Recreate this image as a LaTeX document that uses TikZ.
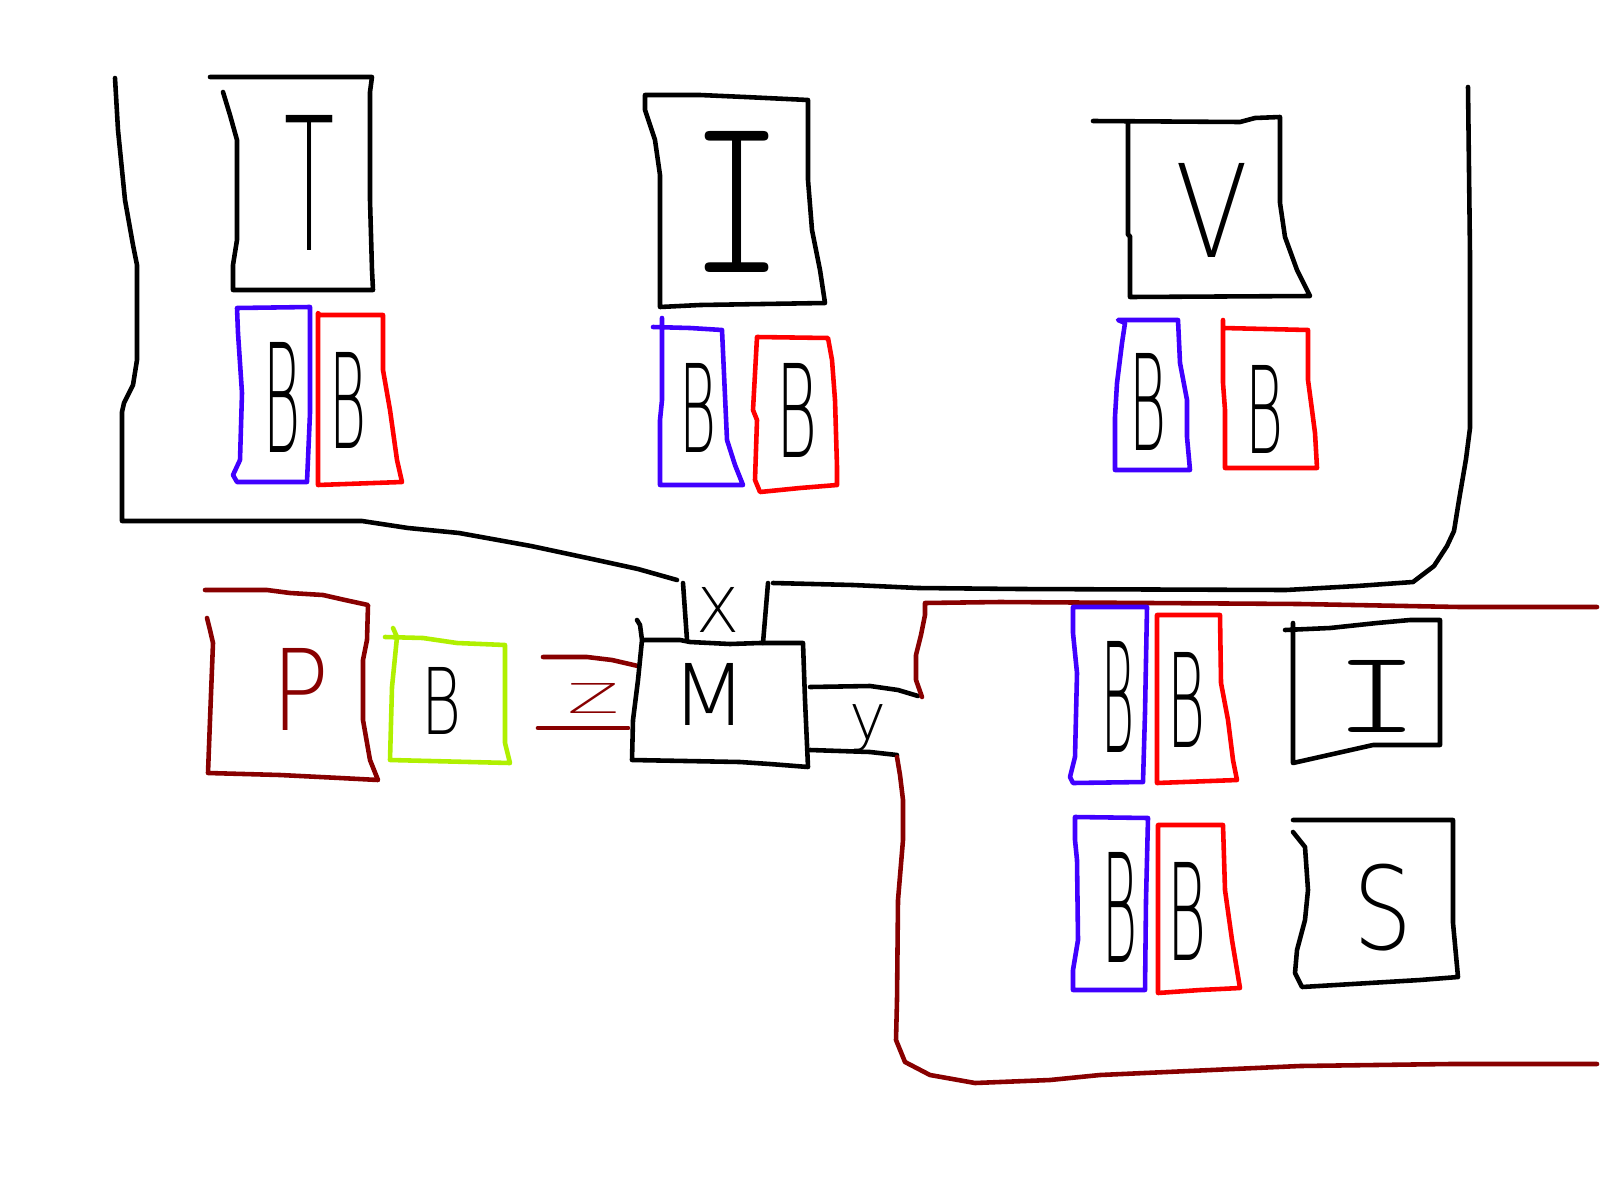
\documentclass[tikz,border=0pt]{standalone}
\usepackage{fontspec}
\usepackage{graphicx}
\IfFontExistsTF{DejaVuSans-ExtraLight.ttf}{\newfontfamily\sketchfont{DejaVuSans-ExtraLight.ttf}}{\newfontfamily\sketchfont{Fira Sans}}
\IfFontExistsTF{Latin Modern Mono Light}{\newfontfamily\slabfont{Latin Modern Mono Light}}{%
  \IfFontExistsTF{lmmonolt10-regular}{\newfontfamily\slabfont{lmmonolt10-regular}}{%
    \newfontfamily\slabfont{Liberation Mono}}}
\newlength\pxu
\setlength\pxu{0.1mm}
\newcommand\glyph[3]{\resizebox*{#1\pxu}{#2\pxu}{\sketchfont #3}}
\newcommand\slabglyph[3]{\resizebox*{#1\pxu}{#2\pxu}{\slabfont #3}}
\definecolor{pblue}{RGB}{64,0,255}
\definecolor{pred}{RGB}{255,0,0}
\definecolor{pmaroon}{RGB}{136,0,0}
\definecolor{plime}{RGB}{176,240,0}
\tikzset{
  ink/.style={line width=1.3pt, line join=round, line cap=round},
  blk/.style={ink, draw=black},
  blu/.style={ink, draw=pblue},
  rd/.style={ink, draw=pred},
  mar/.style={ink, draw=pmaroon},
  grn/.style={ink, draw=plime},
  let/.style={inner sep=0pt, outer sep=0pt, anchor=center},
}
\begin{document}
\begin{tikzpicture}[x=0.01cm, y=-0.01cm]
\useasboundingbox[fill=white] (0,0) rectangle (1600,1200);

% ---------- big black boundary (left/top region) ----------
\draw[blk] (115,78) -- (118,130) -- (125,200) -- (133,245) -- (137,265) -- (137,360) -- (133,385) -- (124,403) -- (122,412) -- (122,521) -- (362,521) -- (408,528) -- (459,533) -- (531,546) -- (592,559) -- (638,569) -- (677,580);
\draw[blk] (773,583) -- (853,585) -- (918,588) -- (1020,589) -- (1286,590) -- (1357,586) -- (1413,582) -- (1434,566) -- (1447,546) -- (1454,531) -- (1459,500) -- (1466,459) -- (1470,428) -- (1470,255) -- (1468,87);

% ---------- top row: T ----------
\draw[blk] (210,77) -- (372,77) -- (370,92) -- (370,200) -- (372,270) -- (373,290) -- (233,290) -- (233,265) -- (237,240) -- (237,140) -- (230,115) -- (223,92);
\node[let] (t1) at (310,183) {\glyph{50}{135}{T}};
\draw[blu] (237,308) -- (310,307) -- (310,413) -- (307,482) -- (237,482) -- (233,475) -- (240,460) -- (242,393) -- (238,333) -- cycle;
\node[let] (b1) at (282,397) {\glyph{37}{110}{B}};
\draw[rd] (318,313) -- (320,315) -- (383,315) -- (383,370) -- (390,410) -- (397,460) -- (402,482) -- (318,485) -- cycle;
\node[let] (b2) at (348,400) {\glyph{37}{96}{B}};

% ---------- top row: I ----------
\draw[blk] (645,95) -- (700,95) -- (745,97) -- (808,100) -- (808,180) -- (812,230) -- (820,270) -- (825,303) -- (700,305) -- (660,307) -- (660,175) -- (655,140) -- (645,110) -- cycle;
\node[let] (i1) at (737,202) {\slabglyph{93}{141}{I}};
\draw[blu] (653,327) -- (690,328) -- (722,330) -- (727,440) -- (735,465) -- (743,485) -- (660,485) -- (660,420) -- (662,400) -- (662,318);
\node[let] (b3) at (698,408) {\glyph{37}{89}{B}};
\draw[rd] (757,337) -- (828,338) -- (832,360) -- (835,400) -- (837,467) -- (837,485) -- (800,488) -- (760,492) -- (755,480) -- (757,420) -- (753,410) -- cycle;
\node[let] (b4) at (797,410) {\glyph{41}{94}{B}};

% ---------- top row: V ----------
\draw[blk] (1093,121) -- (1240,122) -- (1255,118) -- (1280,117) -- (1280,203) -- (1285,237) -- (1297,270) -- (1310,296) -- (1130,297) -- (1130,236) -- (1128,235) -- (1128,123);
\node[let] (v1) at (1212,210) {\glyph{73}{94}{V}};
\draw[blu] (1118,320) -- (1178,320) -- (1180,363) -- (1187,400) -- (1187,437) -- (1190,470) -- (1115,470) -- (1115,417) -- (1117,383) -- (1122,343) -- (1125,323) -- cycle;
\node[let] (b5) at (1148,402) {\glyph{37}{97}{B}};
\draw[rd] (1223,320) -- (1223,328) -- (1308,330) -- (1308,380) -- (1312,410) -- (1315,433) -- (1317,468) -- (1225,468) -- (1225,410) -- (1223,383) -- (1223,328);
\node[let] (b6) at (1264,409) {\glyph{38}{88}{B}};

% ---------- middle left: P and lime B ----------
\draw[mar] (205,590) -- (267,590) -- (290,593) -- (323,595) -- (345,600) -- (368,605) -- (367,640) -- (363,660) -- (363,720) -- (370,760) -- (378,780) -- (340,778) -- (280,775) -- (208,773) -- (210,720) -- (213,643) -- (210,630) -- (207,618);
\node[let, text=pmaroon] (p1) at (301,689) {\glyph{58}{82}{P}};
\draw[grn] (385,637) -- (423,638) -- (457,643) -- (505,645) -- (505,743) -- (510,763) -- (390,760) -- (392,687) -- (397,637) -- (393,628);
\node[let] (b7) at (442,701) {\glyph{40}{67}{B}};

% ---------- Z lines ----------
\draw[mar] (543,657) -- (587,657) -- (612,660) -- (638,666);
\draw[mar] (538,728) -- (628,728);
\node[let, text=pmaroon] (z1) at (594,698) {\glyph{52}{30}{Z}};

% ---------- M box with X and y ----------
\draw[blk] (637,620) -- (640,625) -- (642,640) -- (680,640) -- (690,642) -- (730,644) -- (760,643) -- (803,643) -- (805,700) -- (808,767) -- (770,764) -- (740,762) -- (632,760) -- (633,720) -- (638,680) -- (642,640);
\node[let] (m1) at (710,694) {\glyph{76}{62}{M}};
\draw[blk] (683,583) -- (687,640);
\draw[blk] (768,583) -- (763,643);
\node[let] (x1) at (718,610) {\glyph{43}{45}{X}};
\draw[blk] (810,687) -- (870,686) -- (898,690) -- (918,696);
\draw[blk] (810,750) -- (840,751) -- (870,752) -- (897,755);
\node[let] (y1) at (868,728) {\glyph{37}{47}{y}};

% ---------- dark red region (lower right) ----------
\draw[mar] (922,697) -- (916,680) -- (916,655) -- (921,635) -- (925,615) -- (925,603) -- (1000,602) -- (1300,604) -- (1460,607) -- (1597,607);
\draw[mar] (897,757) -- (900,775) -- (903,800) -- (903,840) -- (898,900) -- (897,1000) -- (896,1040) -- (905,1062) -- (930,1075) -- (975,1083) -- (1050,1080) -- (1100,1075) -- (1300,1066) -- (1450,1064) -- (1597,1064);

% ---------- lower right: B B I ----------
\draw[blu] (1073,607) -- (1147,607) -- (1145,713) -- (1143,782) -- (1073,783) -- (1070,777) -- (1075,757) -- (1077,673) -- (1073,633) -- cycle;
\node[let] (b8) at (1118,697) {\glyph{33}{111}{B}};
\draw[rd] (1157,615) -- (1220,615) -- (1221,683) -- (1228,720) -- (1233,760) -- (1237,780) -- (1157,783) -- cycle;
\node[let] (b9) at (1186,700) {\glyph{38}{95}{B}};
\draw[blk] (1285,630) -- (1330,628) -- (1377,623) -- (1410,620) -- (1440,620) -- (1440,745) -- (1373,745) -- (1293,763) -- (1293,623);
\node[let] (i2) at (1377,696) {\slabglyph{83}{72}{I}};

% ---------- lower right: B B S ----------
\draw[blu] (1075,817) -- (1148,818) -- (1146,900) -- (1145,990) -- (1073,990) -- (1073,970) -- (1078,940) -- (1077,860) -- (1075,840) -- cycle;
\node[let] (b10) at (1120,907) {\glyph{35}{110}{B}};
\draw[rd] (1158,825) -- (1223,825) -- (1225,890) -- (1232,940) -- (1240,988) -- (1200,990) -- (1158,993) -- cycle;
\node[let] (b11) at (1187,911) {\glyph{39}{98}{B}};
\draw[blk] (1293,820) -- (1453,820) -- (1453,923) -- (1458,977) -- (1420,980) -- (1302,987) -- (1295,973) -- (1297,950) -- (1305,920) -- (1308,890) -- (1305,847) -- (1293,832);
\node[let] (s1) at (1383,908) {\glyph{59}{87}{S}};
\end{tikzpicture}
\end{document}
